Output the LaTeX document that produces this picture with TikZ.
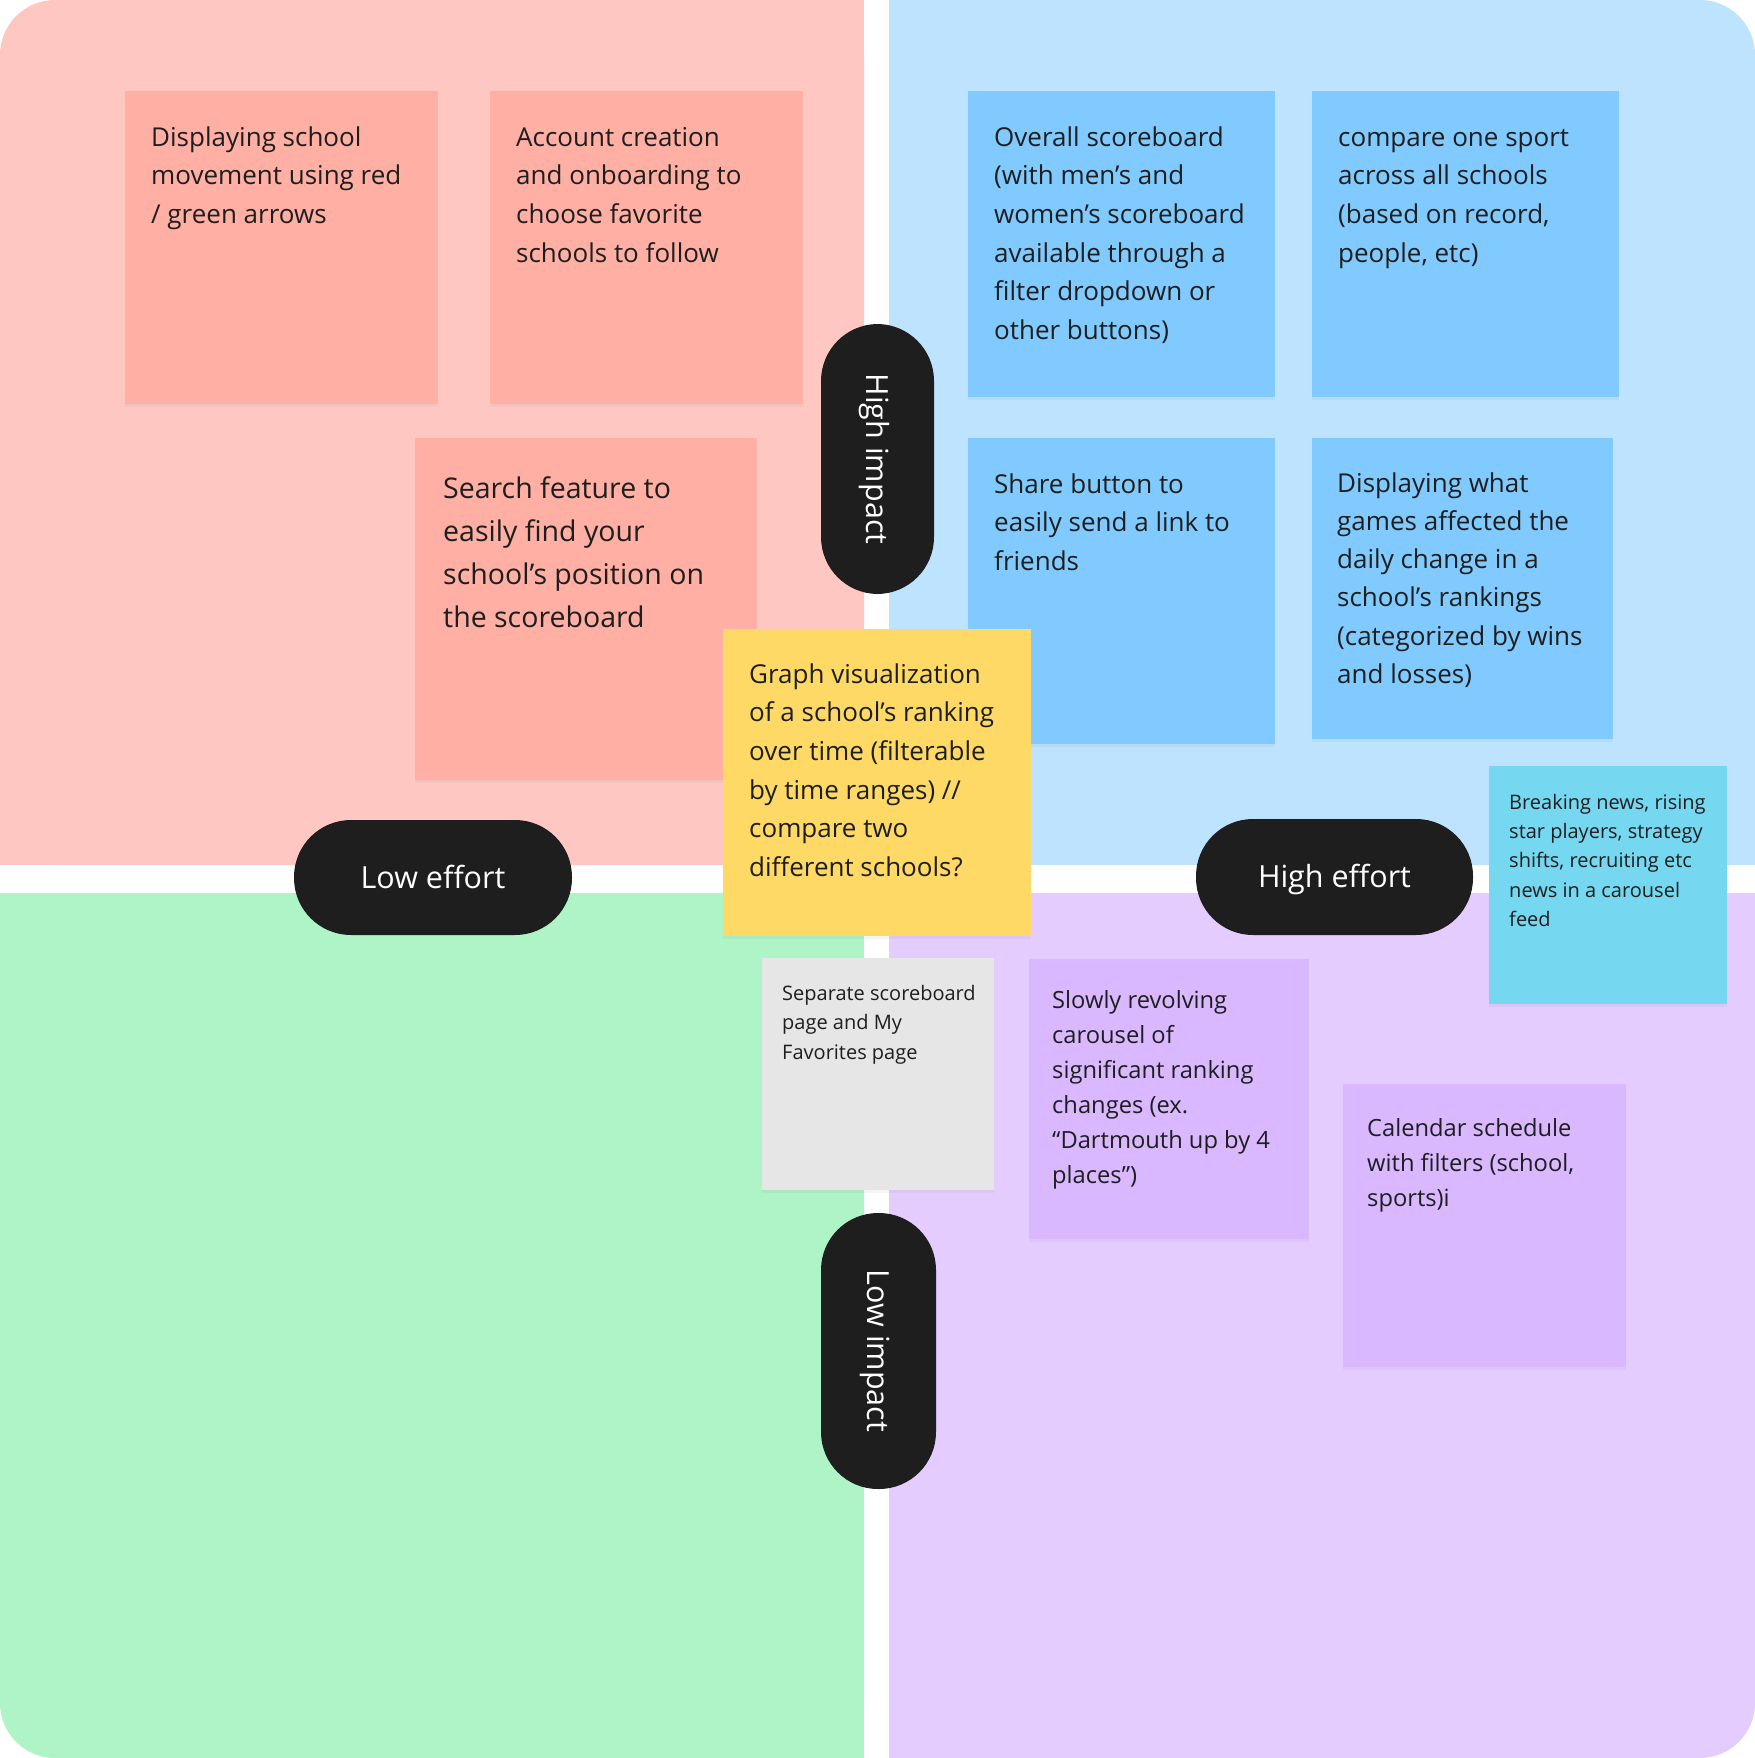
\documentclass[tikz,border=0pt]{standalone}
\usepackage{fontspec}
\setmainfont{Open Sans}
\usetikzlibrary{shadows}
\definecolor{pinkQ}{HTML}{FFC7C2}
\definecolor{pinkS}{HTML}{FFAFA3}
\definecolor{blueQ}{HTML}{BDE3FF}
\definecolor{blueS}{HTML}{80CAFF}
\definecolor{greenQ}{HTML}{AFF4C6}
\definecolor{purpleQ}{HTML}{E4CCFF}
\definecolor{purpleS}{HTML}{D9B8FF}
\definecolor{yellowS}{HTML}{FFD966}
\definecolor{grayS}{HTML}{E6E6E6}
\definecolor{cyanS}{HTML}{75D7F0}
\definecolor{ink}{HTML}{1E1E1E}
\newcommand\fz[2]{\fontsize{#1}{#2}\selectfont}
\begin{document}
\begin{tikzpicture}[x=1pt,y=-1pt,
  sticky/.style={anchor=north west, inner sep=0pt, draw=none,
    drop shadow={opacity=0.08, shadow xshift=0pt, shadow yshift=-3pt}},
  txt/.style={anchor=north west, inner sep=0pt, align=left, text=ink},
  pill/.style={fill=ink, text=white, rounded corners=57pt, inner sep=0pt,
    font=\fz{30.5}{36}, text height=21.8pt, text depth=0pt}]
\useasboundingbox (0,0) rectangle (1755,1758);
% quadrants
\fill[pinkQ, rounded corners=55pt] (0,0) rectangle (864,865);
\fill[pinkQ] (432,0) rectangle (864,865);
\fill[pinkQ] (0,432) rectangle (864,865);
\fill[blueQ, rounded corners=55pt] (889,0) rectangle (1755,865);
\fill[blueQ] (889,0) rectangle (1320,865);
\fill[blueQ] (889,432) rectangle (1755,865);
\fill[greenQ, rounded corners=55pt] (0,893) rectangle (864,1758);
\fill[greenQ] (0,893) rectangle (864,1320);
\fill[greenQ] (432,893) rectangle (864,1758);
\fill[purpleQ, rounded corners=55pt] (889,893) rectangle (1755,1758);
\fill[purpleQ] (889,893) rectangle (1755,1320);
\fill[purpleQ] (889,893) rectangle (1320,1758);

% pink stickies
\node[sticky, fill=pinkS, minimum width=313pt, minimum height=313pt] (s1) at (125,91) {};
\node[txt, font=\fz{26}{38.7}] (t1) at (151,120) {\rule{0pt}{1em}Displaying school\\movement using red\\/ green arrows};
\node[sticky, fill=pinkS, minimum width=313pt, minimum height=313pt] (s2) at (490,91) {};
\node[txt, font=\fz{26}{38.7}] (t2) at (516,120) {\rule{0pt}{1em}Account creation\\and onboarding to\\choose favorite\\schools to follow};
\node[sticky, fill=pinkS, minimum width=342pt, minimum height=342pt] (s3) at (415,438) {};
\node[txt, font=\fz{28.5}{43}] (t3) at (443,469.5) {\rule{0pt}{1em}Search feature to\\easily find your\\school’s position on\\the scoreboard};

% blue stickies
\node[sticky, fill=blueS, minimum width=307pt, minimum height=306pt] (s5) at (968,91) {};
\node[txt, font=\fz{26}{38.6}] (t5) at (994,120) {\rule{0pt}{1em}Overall scoreboard\\(with men’s and\\women’s scoreboard\\available through a\\filter dropdown or\\other buttons)};
\node[sticky, fill=blueS, minimum width=307pt, minimum height=306pt] (s6) at (1312,91) {};
\node[txt, font=\fz{26}{38.6}] (t6) at (1338,120) {\rule{0pt}{1em}compare one sport\\across all schools\\(based on record,\\people, etc)};
\node[sticky, fill=blueS, minimum width=307pt, minimum height=306pt] (s7) at (968,438) {};
\node[txt, font=\fz{26}{38.6}] (t7) at (994,467) {\rule{0pt}{1em}Share button to\\easily send a link to\\friends};
\node[sticky, fill=blueS, minimum width=301pt, minimum height=301pt] (s8) at (1312,438) {};
\node[txt, font=\fz{26}{38.2}] (t8) at (1337,466) {\rule{0pt}{1em}Displaying what\\games affected the\\daily change in a\\school’s rankings\\(categorized by wins\\and losses)};

% yellow sticky
\node[sticky, fill=yellowS, minimum width=308pt, minimum height=307pt] (s4) at (723,629) {};
\node[txt, font=\fz{26}{38.6}] (t4) at (749,657) {\rule{0pt}{1em}Graph visualization\\of a school’s ranking\\over time (filterable\\by time ranges) //\\compare two\\different schools?};

% cyan sticky
\node[sticky, fill=cyanS, minimum width=238pt, minimum height=238pt] (s9) at (1489,766) {};
\node[txt, font=\fz{20}{29.3}] (t9) at (1509,789) {\rule{0pt}{1em}Breaking news, rising\\star players, strategy\\shifts, recruiting etc\\news in a carousel\\feed};

% gray sticky
\node[sticky, fill=grayS, minimum width=232pt, minimum height=232pt] (s10) at (762,958) {};
\node[txt, font=\fz{20}{29.5}] (t10) at (782,980) {\rule{0pt}{1em}Separate scoreboard\\page and My\\Favorites page};

% purple stickies
\node[sticky, fill=purpleS, minimum width=280pt, minimum height=280pt] (s11) at (1029,959) {};
\node[txt, font=\fz{23.7}{35}] (t11) at (1052,984.3) {\rule{0pt}{1em}Slowly revolving\\carousel of\\significant ranking\\changes (ex.\\“Dartmouth up by 4\\places”)};
\node[sticky, fill=purpleS, minimum width=283pt, minimum height=283pt] (s12) at (1343,1084) {};
\node[txt, font=\fz{23.7}{35}] (t12) at (1367,1112.3) {\rule{0pt}{1em}Calendar schedule\\with filters (school,\\sports)i};

% pills
\node[pill, rotate=-90, minimum width=270pt, minimum height=113pt] (hi) at (877.5,459) {High impact};
\node[pill, rotate=-90, minimum width=276pt, minimum height=115pt] (li) at (878.5,1351) {Low impact};
\node[pill, minimum width=278pt, minimum height=115pt] (le) at (433,877.5) {Low effort};
\node[pill, minimum width=277pt, minimum height=116pt] (he) at (1334.5,877) {High effort};
\end{tikzpicture}
\end{document}
